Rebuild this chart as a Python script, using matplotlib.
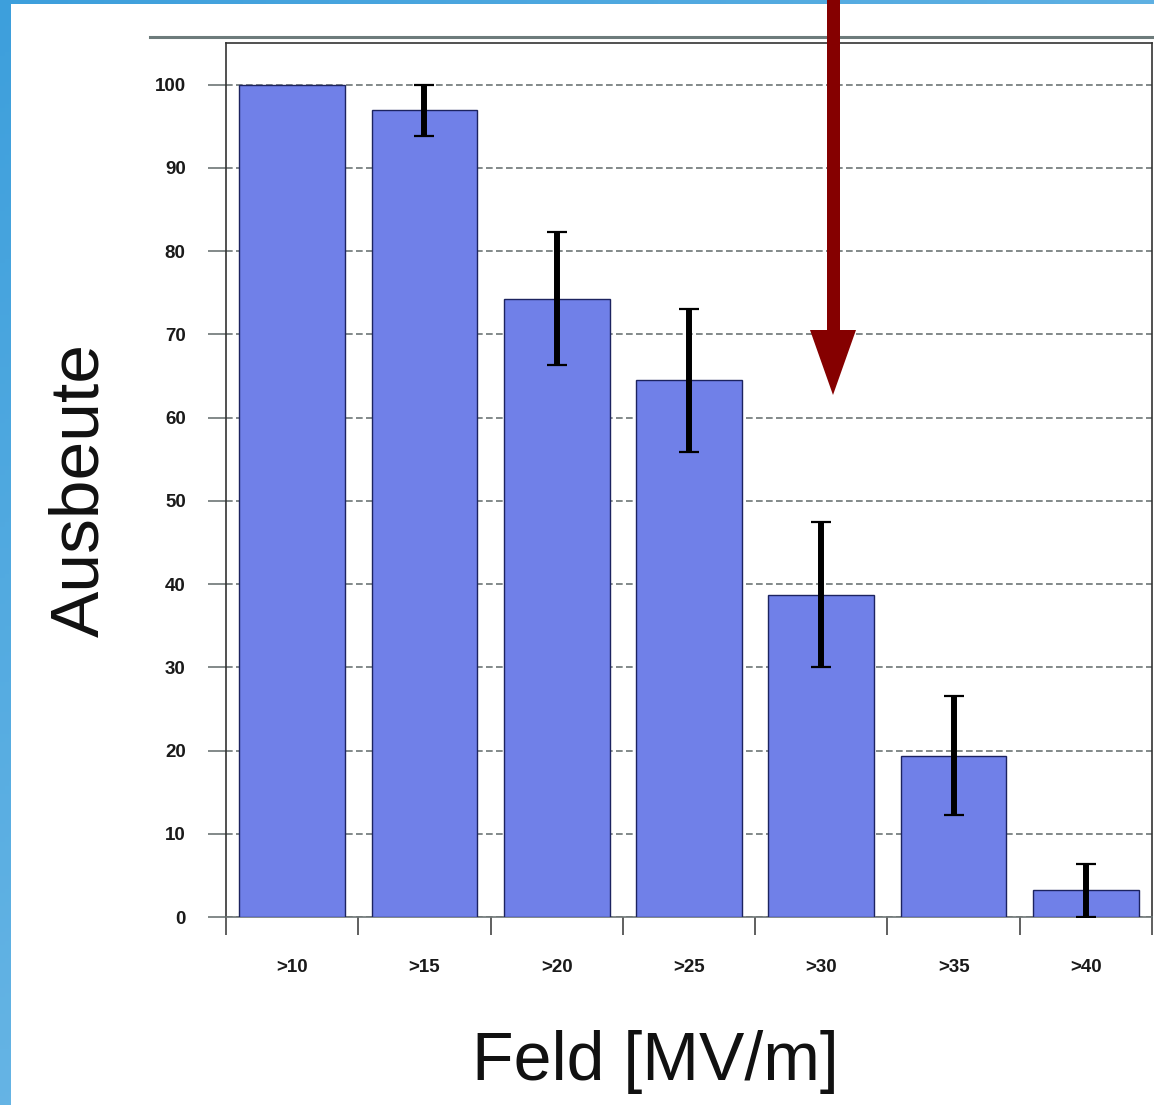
import matplotlib
matplotlib.use("Agg")
import matplotlib.pyplot as plt
from matplotlib.patches import Rectangle, Polygon
from matplotlib.lines import Line2D
import numpy as np

categories = [">10", ">15", ">20", ">25", ">30", ">35", ">40"]
yield_vals = [100, 96.9, 74.3, 64.5, 38.7, 19.4, 3.2]
yield_err = [0, 3.1, 8.0, 8.6, 8.7, 7.1, 3.2]
y_ticks = [0, 10, 20, 30, 40, 50, 60, 70, 80, 90, 100]

W, H = 1154, 1105
fig = plt.figure(figsize=(W / 100, H / 100), dpi=100)

# blue frame with a slight gradient, white page on top
bg = fig.add_axes([0, 0, 1, 1], zorder=-10)
bg.axis("off")
grad = np.linspace(0, 1, 256)
gx, gy = np.meshgrid(grad, grad)
c0 = np.array([0x3d, 0x9f, 0xdc]) / 255
c1 = np.array([0x80, 0xc2, 0xea]) / 255
t = np.clip(0.5 * gx + 0.6 * gy, 0, 1)[..., None]
bg.imshow(c0 * (1 - t) + c1 * t, extent=[0, 1, 0, 1], aspect="auto", origin="upper")
bg.add_patch(Rectangle((11 / W, 0), 1, 1 - 4 / H, transform=bg.transAxes,
                       facecolor="white", edgecolor="none"))
bg.set_xlim(0, 1)
bg.set_ylim(0, 1)

# grey rule above the chart
fig.add_artist(Line2D([150 / W, 1], [1 - 37 / H, 1 - 37 / H], color="#6d7b7b", lw=2.2))

ax = fig.add_axes([226 / W, 188 / H, 926 / W, 874 / H])
x = np.arange(len(categories))
ax.bar(x, yield_vals, width=0.8, color="#7080e8", edgecolor="#1c2360", linewidth=1.0, zorder=3)
ax.errorbar(x[1:], yield_vals[1:], yerr=yield_err[1:], fmt="none", ecolor="black",
            elinewidth=4.3, capsize=7, capthick=1.6, zorder=4)

ax.set_xlim(-0.5, len(categories) - 0.5)
ax.set_ylim(0, 105)
ax.set_yticks(y_ticks)
ax.set_yticklabels([str(v) for v in y_ticks], fontsize=13.5, fontweight="bold",
                   family="Liberation Sans", color="#1a1a1a")
ax.yaxis.grid(True, linestyle=(0, (4, 2)), color="#6d7575", linewidth=1.2, zorder=0)
ax.set_axisbelow(True)
ax.tick_params(axis="y", length=13, width=1.2, color="#6d7575", pad=16)

ax.set_xticks(np.arange(-0.5, len(categories), 1.0))
ax.set_xticklabels([])
ax.set_xticks(x, minor=True)
ax.set_xticklabels(categories, minor=True, fontsize=13.5, fontweight="bold",
                   family="Liberation Sans", color="#1a1a1a")
ax.tick_params(axis="x", which="major", length=13, width=1.2, color="#444444", direction="out")
ax.tick_params(axis="x", which="minor", length=0, pad=30)

for side in ["left", "right", "top", "bottom"]:
    ax.spines[side].set_color("#333333")
    ax.spines[side].set_linewidth(1.2)
ax.spines["bottom"].set_color("#6d7575")

fig.text(80 / W, 1 - 490 / H, "Ausbeute", fontsize=50, family="Liberation Sans",
         rotation=90, ha="center", va="center", color="#111111")
fig.text(655 / W, 1 - 1062 / H, "Feld [MV/m]", fontsize=49, family="Liberation Sans",
         ha="center", va="center", color="#111111")

# dark red arrow pointing down
shaft = Rectangle((827 / W, 1 - 332 / H), 13 / W, 332 / H, transform=fig.transFigure,
                  facecolor="#850000", edgecolor="none", zorder=20)
head = Polygon([(810 / W, 1 - 330 / H), (856 / W, 1 - 330 / H), (833 / W, 1 - 395 / H)],
               closed=True, transform=fig.transFigure, facecolor="#850000",
               edgecolor="none", zorder=20)
fig.add_artist(shaft)
fig.add_artist(head)

fig.savefig("out.png", dpi=100)
